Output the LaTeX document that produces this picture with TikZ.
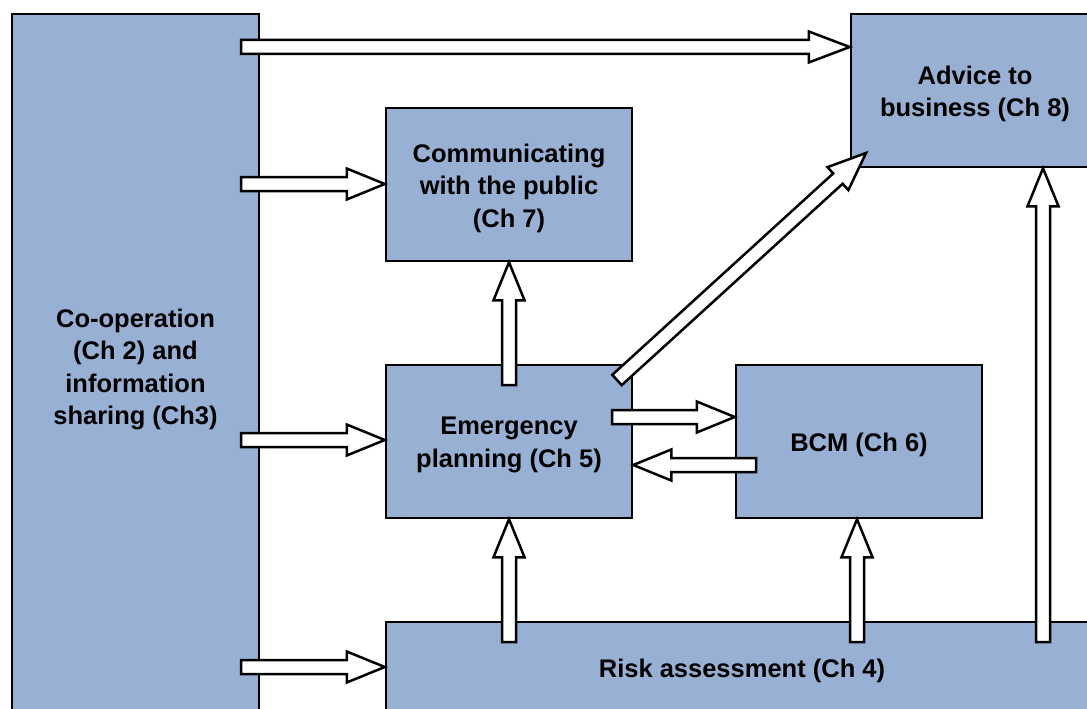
\documentclass[tikz,border=0pt]{standalone}
\usepackage{fontspec}
\setmainfont{Liberation Sans}
\usetikzlibrary{calc}
\definecolor{boxblue}{RGB}{152,176,211}
\tikzset{
  box/.style={draw=black, line width=2.5pt, fill=boxblue, inner sep=0pt},
  txt/.style={align=center, inner sep=0pt, yshift=-3.5pt,
    font=\fontsize{25.5}{32.5}\selectfont\bfseries},
  barr/.style={draw=black, line width=2.5pt, fill=white, line join=miter}
}
% block arrow from #2 (tail) to #3 (tip), head length #1
\newcommand{\blockarrow}[3][38]{%
  \path[barr] let \p1=#2, \p2=#3, \n1={atan2(\y2-\y1,\x2-\x1)}, \n2={veclen(\x2-\x1,\y2-\y1)} in
    [shift={(\p1)}, rotate=\n1]
    (0,-7) -- ({\n2-#1},-7) -- ({\n2-#1},-15.5) -- ({\n2},0) -- ({\n2-#1},15.5) -- ({\n2-#1},7) -- (0,7) -- cycle;}
\begin{document}
\begin{tikzpicture}[x=1pt,y=-1pt]
\useasboundingbox (0,0) rectangle (1087,709);
\clip (0,0) rectangle (1087,709);
\node[box, minimum width=247pt, minimum height=704pt,
  label={[txt]center:{Co-operation\\(Ch 2) and\\information\\sharing (Ch3)}}] (coop) at (135.5,366) {};
\node[box, minimum width=246pt, minimum height=153pt,
  label={[txt]center:{Communicating\\with the public\\(Ch 7)}}] (comm) at (509,184.5) {};
\node[box, minimum width=248pt, minimum height=153pt,
  label={[txt]center:{Advice to\\business (Ch 8)}}] (adv) at (975,90.5) {};
\node[box, minimum width=246pt, minimum height=153pt,
  label={[txt]center:{Emergency\\planning (Ch 5)}}] (emer) at (509,441.5) {};
\node[box, minimum width=246pt, minimum height=153pt,
  label={[txt]center:{BCM (Ch 6)}}] (bcm) at (859,441.5) {};
\node[box, minimum width=712pt, minimum height=90pt,
  label={[txt]center:{Risk assessment (Ch 4)}}] (risk) at (742,667) {};
% tails
\coordinate (t1) at (241,47);
\coordinate (t2) at (241,184);
\coordinate (t3) at (241,440);
\coordinate (t4) at (241,667);
\coordinate (t5) at (509,385);
\coordinate (t6) at (612,417);
\coordinate (t7) at (756,465);
\coordinate (t8) at (509,642);
\coordinate (t9) at (857,642);
\coordinate (t10) at (1043,642);
\coordinate (t11) at (617,380);
\coordinate (h11) at (866,153);
\blockarrow[41]{(t1)}{(adv.west |- t1)}
\blockarrow{(t2)}{(comm.west |- t2)}
\blockarrow{(t3)}{(emer.west |- t3)}
\blockarrow{(t4)}{(risk.west |- t4)}
\blockarrow{(t5)}{(comm.south -| t5)}
\blockarrow{(t6)}{(bcm.west |- t6)}
\blockarrow{(t7)}{(emer.east |- t7)}
\blockarrow{(t8)}{(emer.south -| t8)}
\blockarrow{(t9)}{(bcm.south -| t9)}
\blockarrow{(t10)}{(adv.south -| t10)}
\blockarrow{(t11)}{(h11)}
\end{tikzpicture}
\end{document}
